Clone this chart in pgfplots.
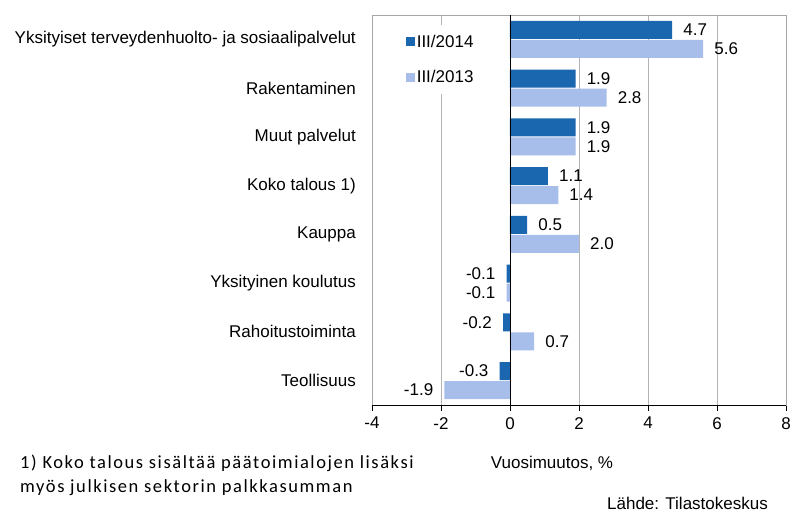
\documentclass[border=0pt]{standalone}
\usepackage{pgfplots}
\pgfplotsset{compat=1.18}
\usepackage{fontspec}
\setmainfont{Liberation Sans}
\newfontfamily\notefont[LetterSpace=8.5]{Carlito}
\definecolor{dark}{HTML}{1A66AF}
\definecolor{light}{HTML}{A7BDEA}
\definecolor{gridc}{HTML}{B4B4B4}
\begin{document}
\begin{tikzpicture}
\useasboundingbox (-372bp,-107bp) rectangle (420bp,405bp);
\begin{axis}[
  scale only axis,
  width=414bp, height=390bp,
  at={(0,0)}, anchor=south west,
  xbar, bar width=18bp,
  xmin=-4, xmax=8, ymin=-0.5, ymax=7.5,
  xtick={-4,-2,0,2,4,6,8},
  ytick={0,1,2,3,4,5,6,7},
  yticklabels={Teollisuus,Rahoitustoiminta,Yksityinen koulutus,Kauppa,Koko talous 1),Muut palvelut,Rakentaminen,Yksityiset terveydenhuolto- ja sosiaalipalvelut},
  xmajorgrids, grid style={gridc, line width=0.8bp},
  axis line style={draw=gray!70, line width=0.8bp},
  xtick pos=bottom, ytick pos=left,
  tick align=outside,
  major x tick style={black, line width=0.8bp},
  xtick style={black, line width=0.8bp},
  major tick length=6bp,
  ytick style={draw=none},
  /pgf/number format/assume math mode=true,
  tick label style={font=\fontsize{17bp}{19bp}\selectfont},
  yticklabel style={inner sep=0pt, xshift=-10bp},
  xticklabel style={inner sep=0pt, yshift=-6bp},
  nodes near coords={\pgfmathprintnumber[fixed,fixed zerofill,precision=1]{\pgfplotspointmeta}},
  every node near coord/.append style={font=\fontsize{17bp}{19bp}\selectfont, black, inner xsep=11bp, inner ysep=0pt},
  nodes near coords align={horizontal},
  legend image code/.code={\fill[#1] (0bp,-4.5bp) rectangle (9bp,4.5bp);},
  legend style={at={(0.063,0.974)}, anchor=north west, draw=none, fill=white,
    inner xsep=8bp, inner ysep=8bp, row sep=19bp,
    font=\fontsize{17bp}{19bp}\selectfont, cells={anchor=west},
    nodes={inner sep=1.5bp}},
  clip=false,
]
\addplot[fill=dark, draw=none, bar shift=9.5bp] coordinates {
  (-0.3,0) (-0.2,1) (-0.1,2) (0.5,3) (1.1,4) (1.9,5) (1.9,6) (4.7,7)};
\addlegendentry{III/2014}
\addplot[fill=light, draw=none, bar shift=-9.5bp] coordinates {
  (-1.9,0) (0.7,1) (-0.1,2) (2.0,3) (1.4,4) (1.9,5) (2.8,6) (5.6,7)};
\addlegendentry{III/2013}
\draw[black, line width=0.8bp] (axis cs:0,-0.5) -- (axis cs:0,7.5);
\draw[black, line width=0.8bp] (rel axis cs:0,0) -- (rel axis cs:1,0);
\end{axis}
\node[anchor=west, inner sep=0pt, font=\notefont\fontsize{18.5bp}{20bp}\selectfont] at (-352bp,-58bp) {1) Koko talous sisältää päätoimialojen lisäksi};
\node[anchor=west, inner sep=0pt, font=\notefont\fontsize{18.5bp}{20bp}\selectfont] at (-352bp,-83bp) {myös julkisen sektorin palkkasumman};
\node[inner sep=0pt, font=\fontsize{17bp}{19bp}\selectfont] at (180bp,-58bp) {Vuosimuutos, \%};
\node[anchor=east, inner sep=0pt, font=\fontsize{17bp}{19bp}\selectfont] at (396bp,-98bp) {Lähde: Tilastokeskus};
\end{tikzpicture}
\end{document}
